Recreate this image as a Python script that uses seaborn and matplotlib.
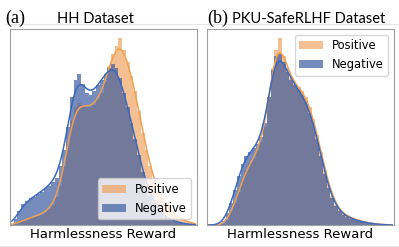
import numpy as np
import pandas as pd
import seaborn as sns
import matplotlib.pyplot as plt
from matplotlib.lines import Line2D

# reward axis binned into 50 bins (no tick labels on the original)
reward_edges = list(range(0, 101, 2))
reward_mid = [e + 1 for e in reward_edges[:-1]]

# bar heights (percent of the panel height)
hh_positive = [0, 0.8, 1.5, 2.2, 3, 3.7, 4.2, 4.8, 5.7, 6.7,
               8, 10, 14, 20, 30, 42, 53, 60, 62, 61,
               60, 60, 61, 64, 67, 73, 81, 87, 91, 95,
               89, 83, 76, 68, 58, 47, 38, 30, 22, 17.5,
               14, 10.5, 8, 6, 4.5, 3.3, 2.5, 1.7, 1.1, 0.6]
hh_negative = [0.5, 3, 7, 10.5, 12, 13.5, 14.5, 16, 17, 19,
               20, 22, 24, 30, 38, 50, 65, 74, 77, 72,
               67, 66, 68, 71, 74, 77, 80, 82, 80, 75,
               67, 60, 52, 44, 35.5, 27, 20, 15, 11, 7.5,
               5.5, 4, 3, 2.2, 1.6, 1.1, 0.7, 0.4, 0.2, 0.1]
pku_positive = [0, 0, 0, 0, 0.5, 2.5, 7, 11.6, 17, 23,
                28, 31.5, 34, 38, 42, 50, 65, 80, 89, 95,
                86, 80, 75, 72, 70, 68, 65, 60, 54, 46,
                37, 28, 21, 15, 10, 7.5, 5.8, 4.6, 3.7, 3,
                2.4, 1.9, 1.4, 1, 0.7, 0.5, 0.3, 0.15, 0.05, 0]
pku_negative = [0, 0, 0, 0.5, 2, 6, 11, 18, 25, 31,
                35, 37, 39, 41, 45, 52, 65, 79, 86, 87,
                83, 78, 74, 71, 69, 66, 63, 57, 52, 44,
                35, 26, 19, 13.5, 9.5, 7, 5.2, 4.2, 3.3, 2.6,
                2.1, 1.6, 1.2, 0.9, 0.6, 0.4, 0.2, 0.1, 0, 0]

orange = '#ee9a4e'
blue = '#3c5ca0'

fig = plt.figure(figsize=(3.99, 2.47), dpi=100)
ax1 = fig.add_axes([10/399, 1-225/247, 187/399, 196/247])
ax2 = fig.add_axes([207/399, 1-225/247, 187/399, 196/247])


def draw(ax, pos, neg, loc):
    df = pd.DataFrame({'reward': reward_mid + reward_mid,
                       'count': pos + neg,
                       'label': ['Positive']*len(pos) + ['Negative']*len(neg)})
    for lab, col, a in [('Positive', orange, 0.62), ('Negative', blue, 0.7)]:
        sub = df[df['label'] == lab]
        sns.histplot(data=sub, x='reward', weights='count', bins=reward_edges,
                     kde=True, color=col, alpha=a, linewidth=0, label=lab,
                     kde_kws={'bw_adjust': 0.35}, line_kws={'lw': 1.1}, ax=ax)
    # line colours a touch brighter than the bar fill
    ax.lines[0].set_color('#f0a050')
    ax.lines[1].set_color('#3a68c0')
    ax.set_xlim(0, 100)
    ax.set_xticks([])
    ax.set_yticks([])
    ax.set_ylabel('')
    ax.set_xlabel('Harmlessness Reward', fontsize=9.5, labelpad=2)
    for s in ax.spines.values():
        s.set_color('#a0a0a0')
        s.set_linewidth(0.8)
    ax.legend(loc=loc, fontsize=8.3)


draw(ax1, hh_positive, hh_negative, 'lower right')
draw(ax2, pku_positive, pku_negative, 'upper right')

# panel titles
fig.text(5/399, 1-23/247, '(a)', family='Liberation Serif', fontsize=13, va='baseline')
fig.text(57/399, 1-23/247, 'HH Dataset', family='Lato', fontsize=10.5, va='baseline')
fig.text(207/399, 1-23/247, '(b)', family='Liberation Serif', fontsize=13, va='baseline')
fig.text(232/399, 1-23/247, 'PKU-SafeRLHF Dataset', family='Lato', fontsize=10.5, va='baseline')

# faint rules from the source layout
fig.add_artist(Line2D([5/399, 1], [1-24.5/247]*2, color='#e6e6e6', lw=0.8))
fig.add_artist(Line2D([0, 1], [1-246/247]*2, color='#e6e6e6', lw=0.8))

fig.savefig('out.png', dpi=100)
